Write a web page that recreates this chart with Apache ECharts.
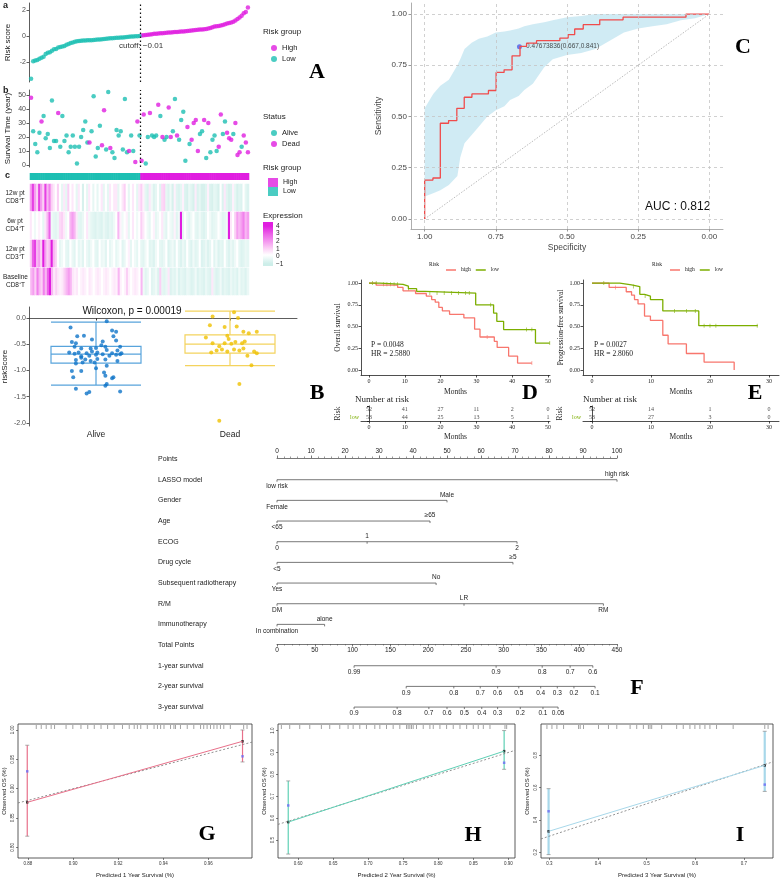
<!DOCTYPE html>
<html>
<head>
<meta charset="utf-8">
<title>Risk model figure</title>
<script src="https://cdn.jsdelivr.net/npm/echarts@6.0.0/dist/echarts.min.js"></script>
<style>
  html, body { margin: 0; padding: 0; background: #fff; }
  #chart { width: 780px; height: 881px; }
</style>
</head>
<body>
<div id="chart"></div>
<script>
// ---------- panels a-c: risk score, survival status, heatmap ----------
const riskCutoff = -0.01;
const riskScore = [
  -3.3, -1.95, -1.9, -1.85, -1.75, -1.68, -1.6, -1.4, -1.3, -1.25, -1.15, -1.02, -1.0, -0.9, -0.86, -0.82, -0.78, -0.68,
  -0.62, -0.55, -0.5, -0.45, -0.4, -0.39, -0.37, -0.36, -0.35, -0.34, -0.33, -0.33, -0.32, -0.3, -0.28, -0.27, -0.26,
  -0.24, -0.22, -0.2, -0.18, -0.17, -0.16, -0.14, -0.13, -0.12, -0.11, -0.1, -0.08, -0.07, -0.05, -0.04, -0.03, -0.02, -0.01,
  0.03, 0.05, 0.07, 0.1, 0.12, 0.14, 0.16, 0.17, 0.18, 0.2, 0.21, 0.23, 0.25, 0.26, 0.27, 0.28, 0.3, 0.31, 0.32, 0.34,
  0.35, 0.37, 0.39, 0.41, 0.42, 0.44, 0.45, 0.47, 0.49, 0.5, 0.52, 0.54, 0.57, 0.62, 0.68, 0.72, 0.74, 0.76, 0.8, 0.85,
  0.9, 0.96, 1.0, 1.04, 1.1, 1.2, 1.3, 1.42, 1.55, 1.75, 1.85, 2.2
];
const survTime = [
  48, 24, 15, 9, 23, 31, 35, 19, 22, 12, 46, 17, 17, 37, 13, 35, 17, 21, 9, 13, 21, 13, 1, 13, 20, 25, 31, 16, 16, 24,
  49, 6, 12, 28, 14, 39, 11, 52, 12, 9, 5, 25, 21, 24, 11, 47, 9, 10, 21, 10, 2, 31, 21,
  3, 36, 1, 20, 37, 21, 20, 21, 43, 35, 20, 18, 20, 41, 20, 24, 47, 21, 18, 32, 38, 3, 27, 15, 18, 30, 32, 10, 22, 24,
  32, 5, 30, 9, 18, 21, 10, 13, 36, 22, 31, 23, 19, 18, 22, 30, 7, 9, 13, 21, 16, 9
];
const deadFlag = [
  1, 0, 0, 0, 0, 1, 0, 0, 0, 0, 0, 0, 0, 1, 0, 0, 0, 0, 0, 0, 0, 0, 0, 0, 0, 0, 0, 0, 1, 0,
  0, 0, 0, 0, 1, 1, 0, 0, 1, 0, 0, 0, 0, 0, 0, 0, 0, 1, 0, 0, 1, 1, 0,
  1, 1, 0, 0, 1, 0, 0, 0, 1, 0, 1, 0, 0, 1, 1, 0, 0, 1, 0, 0, 0, 0, 1, 0, 1, 1, 1, 1, 0, 0,
  1, 0, 1, 0, 0, 0, 0, 1, 1, 0, 0, 1, 1, 1, 0, 1, 1, 1, 0, 1, 1, 1
];
const heatRows = ['12w pt\nCD8⁺T', '6w pt\nCD4⁺T', '12w pt\nCD3⁺T', 'Baseline\nCD8⁺T'];
const heatCD8w12 = [
  2, 3.5, 2, 1, 3.5, 2, 1, 3.5, 1.5, 2.5, 1, 0.5, 0, 1, 0, -0.5, 0.5, -0.5, 1, 0, 0.5,
  0, -0.5, 0.5, 0, -0.8, 0, -0.5, 0.5, 0, -0.5, 0, -0.5, 0, 0.5, -0.5, 0, -0.5, 0.5, 0, 0.5,
  0.5, -0.5, 0, 0.5, 1, 0, -0.5, 0, 0.5, 0, -0.5, 0.5,
  1, 0.3, -0.5, -0.7, 0.5, -0.3, -0.7, -0.5, 0, -0.6, 0.8, 1, -0.5, -0.7, -0.3, -0.8, 0.3, -0.6, -0.7, -0.5,
  0.3, -0.7, -0.8, -0.4, -0.6, -0.8, 0.4, -0.7, -0.5, -0.8, -0.8, -0.6, 0.3, -0.7, -0.8, -0.5, -0.6, -0.8, 0, -0.7,
  0.5, -0.6, -0.8, -0.7, 0.3, -0.5, -0.8, -0.6, -0.7, 0, -0.5, -0.7
];
const heatCD4w6 = [
  0.5, 0, -0.3, 0, 0.3, 0, -0.5, 0.5, 1.5, 3, -0.3, -0.5, -0.6, -0.4, 0.8, 1, 0.5, -0.3, 0, 1.5, 2,
  1.5, 0.5, -0.5, -0.6, -0.4, 0, 0.5, -0.3, -0.5, -0.6, -0.7, -0.5, -0.6, -0.7, -0.4, -0.6, -0.7, -0.5, -0.6, -0.3,
  0, 1.5, 0.3, -0.3, 0, 0.3, -0.5, 0, 0.5, 0, -0.3, 0,
  1, 0.5, 0, -0.3, -0.5, 0, 0.3, -0.5, -0.3, 0, 0.5, -0.4, -0.6, 0, -0.3, -0.5, 0.3, -0.6, -0.3, 4,
  -0.5, 0, -0.4, -0.6, -0.3, 0, -0.5, -0.6, -0.3, -0.6, -0.7, -0.5, 0, -0.3, -0.6, -0.5, -0.4, 0, -0.3, -0.6,
  -0.5, -0.3, 4, 0.5, 0, 1, 2, 1.5, 2, 2.5, 1.5, 2
];
const heatCD3w12 = [
  1, 3, 3.5, 1.5, 2, 1, 4, 2, 1, 1.5, 4, 1.5, 1, 0, -0.5, -0.3, 0, -0.5, -0.6, 0, -0.4,
  -0.6, 0, -0.5, -0.3, -0.6, 0, -0.4, -0.6, -0.3, 0, -0.5, -0.6, 0, -0.4, -0.3, -0.6, 0, -0.5, -0.3, 0,
  -0.5, -0.3, 0, -0.6, -0.4, 0, 0.3, -0.5, 0, -0.3, -0.5, 0,
  -0.5, -0.6, -0.3, 0, -0.6, -0.5, -0.7, -0.3, 0, -0.5, -0.6, -0.4, 0, -0.7, -0.5, -0.3, -0.6, 0, -0.5, -0.7,
  -0.4, -0.6, 0, -0.5, -0.7, -0.3, -0.6, -0.5, 0, -0.7, -0.6, -0.4, -0.7, -0.5, 0, -0.6, -0.3, -0.7, -0.5, -0.6,
  0, -0.5, -0.7, -0.4, -0.6, -0.3, 0, -0.5, -0.7, -0.6, -0.4, -0.5
];
const heatCD8base = [
  1.5, 2, 1, 2.5, 1.5, 1, 2.5, 1.5, 3, 4, 1.5, 0.5, 1, 0.5, 0.3, 0.5, 1, 1.5, 2, 1.5, 0.5,
  0.3, 0.5, 0, 0.3, 0.5, 0.3, 0, 0.5, 0.3, 0, 0.3, 0.5, 0.3, 0, 0.3, 0.5, 0.3, 0, 0.3, 0.5,
  0.3, 1.5, 0.3, 0, 0.3, 1, 0.3, 0, 0.3, 0.5, 0.3, 0,
  1.5, -0.3, -0.6, -0.4, 0, -0.6, -0.5, -0.3, -0.7, 1, -0.5, -0.6, -0.4, 0.5, -0.7, -0.5, -0.6, -0.3, -0.7, -0.5,
  -0.6, -0.7, -0.4, -0.5, -0.7, -0.6, -0.3, -0.7, -0.5, -0.6, -0.7, -0.4, -0.6, -0.7, 0.5, -0.5, -0.7, -0.6, -0.3, -0.7,
  -0.5, -0.6, -0.7, -0.4, -0.6, -0.5, -0.7, -0.3, -0.6, -0.5, -0.7, -0.4
];
const exprTicks = [4, 3, 2, 1, 0, -1];

// ---------- B: risk score by status ----------
const boxCats = ['Alive', 'Dead'];
const boxAlive = [-1.28, -0.86, -0.69, -0.54, -0.08];
const boxDead = [-0.91, -0.67, -0.5, -0.32, 0.13];
const jitterAlive = [
  [0.81, -0.18], [1.08, -0.06], [0.82, -0.46], [0.85, -0.48], [0.86, -0.35], [0.91, -0.34], [1.12, -0.24], [1.13, -0.35],
  [1.15, -0.26], [1.15, -0.43], [0.97, -0.41], [1.05, -0.45], [1.04, -0.52], [1.18, -0.55], [1.07, -0.55], [1.0, -0.57],
  [0.96, -0.58], [0.89, -0.58], [0.84, -0.55], [0.93, -0.67], [0.97, -0.64], [1.01, -0.66], [1.08, -0.61], [1.12, -0.67],
  [1.16, -0.62], [1.19, -0.67], [0.8, -0.66], [0.84, -0.68], [0.87, -0.66], [0.89, -0.73], [0.95, -0.72], [1.0, -0.7],
  [1.05, -0.69], [1.1, -0.72], [1.15, -0.7], [1.18, -0.69], [0.85, -0.8], [0.89, -0.76], [0.92, -0.79], [0.96, -0.82],
  [1.01, -0.78], [1.07, -0.79], [1.16, -0.82], [0.85, -0.87], [0.9, -0.85], [0.99, -0.85], [1.08, -0.91], [1.0, -0.96],
  [0.89, -1.01], [1.06, -1.04], [1.07, -1.1], [0.82, -1.01], [0.83, -1.13], [1.12, -1.15], [1.08, -1.26], [1.07, -1.29],
  [0.85, -1.35], [0.93, -1.44], [0.95, -1.41], [1.18, -1.4], [1.13, -1.13]
];
const jitterDead = [
  [1.87, 0.03], [2.03, 0.11], [2.06, 0.0], [1.85, -0.14], [1.96, -0.17], [2.05, -0.16], [1.82, -0.37], [1.98, -0.34],
  [1.99, -0.4], [2.1, -0.26], [2.14, -0.29], [2.2, -0.26], [1.87, -0.48], [1.92, -0.54], [1.96, -0.48], [2.01, -0.49],
  [2.04, -0.46], [2.09, -0.48], [2.11, -0.45], [1.86, -0.66], [1.9, -0.62], [1.94, -0.6], [1.98, -0.64], [2.03, -0.6],
  [2.07, -0.62], [2.18, -0.64], [2.2, -0.67], [2.13, -0.72], [2.1, -0.58], [2.16, -0.9], [2.07, -1.26], [1.92, -1.96]
];

// ---------- C: ROC ----------
const rocTicks = [0, 0.25, 0.5, 0.75, 1];
const rocSpec = [1, 1, 0.971, 0.945, 0.916, 0.887, 0.861, 0.834, 0.776, 0.749, 0.721, 0.693, 0.665, 0.642, 0.607, 0.525, 0.496, 0.473, 0.443, 0.385, 0.303, 0.082, 0];
const rocSens = [0, 0.19, 0.2, 0.467, 0.48, 0.54, 0.594, 0.61, 0.627, 0.715, 0.728, 0.796, 0.842, 0.858, 0.87, 0.883, 0.9, 0.927, 0.948, 0.972, 0.985, 1, 1];
const rocBandSpec = [1, 0.97, 0.945, 0.915, 0.885, 0.875, 0.86, 0.835, 0.81, 0.78, 0.75, 0.72, 0.7, 0.67, 0.65, 0.62, 0.6, 0.58, 0.55, 0.5, 0.45, 0.4, 0.35, 0.3, 0.25, 0.2, 0.15, 0.1, 0.05, 0];
const rocBandLow = [0.11, 0.125, 0.14, 0.166, 0.21, 0.3, 0.37, 0.41, 0.45, 0.5, 0.53, 0.55, 0.58, 0.6, 0.63, 0.66, 0.7, 0.74, 0.78, 0.8, 0.81, 0.83, 0.87, 0.91, 0.93, 0.94, 0.95, 0.97, 0.98, 1];
const rocBandHigh = [0.54, 0.61, 0.65, 0.68, 0.75, 0.78, 0.83, 0.86, 0.88, 0.89, 0.91, 0.915, 0.92, 0.93, 0.94, 0.95, 0.955, 0.96, 0.97, 0.985, 0.99, 1, 1, 1, 1, 1, 1, 1, 1, 1];
const rocBest = [0.667, 0.841];
const rocBestLabel = '-0.47673836(0.667,0.841)';
const rocAuc = 0.812;

// ---------- D, E: Kaplan-Meier ----------
const kmYTicks = [0, 0.25, 0.5, 0.75, 1];
const osHigh = [[0, 1], [2, 0.975], [8, 0.95], [9.5, 0.91], [13, 0.88], [16, 0.85], [17.5, 0.81], [18.5, 0.78], [19.5, 0.72], [20.5, 0.68], [22.5, 0.64], [26.5, 0.6], [29.5, 0.47], [31, 0.38], [35, 0.33], [35.8, 0.26], [39, 0.16], [41.5, 0.08], [45.5, 0.08]];
const osLow = [[0, 1], [3, 0.985], [9.5, 0.965], [11, 0.935], [13.3, 0.905], [15.6, 0.885], [29.8, 0.75], [34.8, 0.655], [35.7, 0.56], [37.6, 0.465], [46.5, 0.31], [50.5, 0.31]];
const osHighCensor = [33, 45.5];
const osLowCensor = [1, 2, 4, 5, 6, 7, 8, 11, 17, 19, 21, 23, 25, 27, 28, 34, 44, 45.5, 50.5];
const pfsHigh = [[0, 1], [2.9, 0.95], [5.8, 0.9], [6.7, 0.86], [7.2, 0.81], [7.8, 0.76], [8.9, 0.62], [9.9, 0.57], [12, 0.4], [12.9, 0.3], [16, 0.19], [19, 0.09], [24.1, 0]];
const pfsLow = [[0, 1], [4.7, 0.98], [6.7, 0.96], [8.1, 0.87], [8.9, 0.85], [9.9, 0.81], [12, 0.68], [18.1, 0.51], [28.1, 0.51]];
const pfsHighCensor = [4];
const pfsLowCensor = [2, 7, 9, 14, 16, 17.5, 19, 20, 21, 28];
const osRiskTimes = [0, 10, 20, 30, 40, 50];
const osAtRiskHigh = [52, 41, 27, 11, 2, 0];
const osAtRiskLow = [53, 44, 25, 13, 5, 1];
const pfsRiskTimes = [0, 10, 20, 30];
const pfsAtRiskHigh = [52, 14, 1, 0];
const pfsAtRiskLow = [53, 27, 3, 0];

// ---------- F: nomogram ----------
const nomoVars = ['LASSO model', 'Gender', 'Age', 'ECOG', 'Drug cycle', 'Subsequent radiotherapy', 'R/M', 'Immunotherapy'];
const nomoLevels = [['low risk', 'high risk'], ['Female', 'Male'], ['<65', '≥65'], ['0', '1', '2'], ['<5', '≥5'], ['Yes', 'No'], ['DM', 'LR', 'RM'], ['In combination', 'alone']];
const nomoLevelPoints = [[0, 100], [0, 50], [0, 45], [0, 26.5, 70.6], [0, 69.4], [0, 46.8], [0, 55, 96], [0, 14]];
const survRowNames = ['1-year survival', '2-year survival', '3-year survival'];
const survProbLabels = [
  ['0.99', '0.9', '0.8', '0.7', '0.6'],
  ['0.9', '0.8', '0.7', '0.6', '0.5', '0.4', '0.3', '0.2', '0.1'],
  ['0.9', '0.8', '0.7', '0.6', '0.5', '0.4', '0.3', '0.2', '0.1', '0.05']
];
const survProbTotals = [
  [102, 290, 351, 388, 418],
  [171, 234, 269, 292, 320, 349, 371, 393, 421],
  [102, 159, 201, 225, 248, 271, 292, 322, 352, 372]
];

// ---------- G, H, I: calibration ----------
const cal1Pred = [0.8797, 0.9751], cal1Obs = [0.8767, 0.9807], cal1Km = [0.9295, 0.9551], cal1Lo = [0.819, 0.9455], cal1Hi = [0.974, 1.0];
const cal2Pred = [0.586, 0.894], cal2Obs = [0.582, 0.906], cal2Km = [0.658, 0.853], cal2Lo = [0.436, 0.823], cal2Hi = [0.77, 1.0];
const cal3Pred = [0.2986, 0.743], cal3Obs = [0.33, 0.738], cal3Km = [0.454, 0.619], cal3Lo = [0.186, 0.577], cal3Hi = [0.594, 0.949];
const cal1Rug = [0.8837, 0.8859, 0.8881, 0.8903, 0.8918, 0.8969, 0.8999, 0.9035, 0.9065, 0.9094, 0.9124, 0.9153, 0.9182, 0.9219, 0.9249, 0.9271, 0.9285, 0.93, 0.9329, 0.9359, 0.9374, 0.9388, 0.9403, 0.9432, 0.9447, 0.9454, 0.9476, 0.9506, 0.9535, 0.9565, 0.9579, 0.9594, 0.9609, 0.9624, 0.9638, 0.9653, 0.9668, 0.9697, 0.9756, 0.9771];
const cal2Rug = [0.5762, 0.5881, 0.6024, 0.6167, 0.6333, 0.6452, 0.6595, 0.6714, 0.6786, 0.6881, 0.6976, 0.7095, 0.7167, 0.7262, 0.7357, 0.7452, 0.7548, 0.7571, 0.7595, 0.7619, 0.7643, 0.769, 0.7786, 0.7881, 0.7929, 0.8024, 0.8119, 0.8214, 0.831, 0.8405, 0.85, 0.8571, 0.8643, 0.8738, 0.8952, 0.8976];
const cal3Rug = [0.2952, 0.3055, 0.3157, 0.3294, 0.3602, 0.3636, 0.3704, 0.4012, 0.4217, 0.4388, 0.4662, 0.4798, 0.4935, 0.5038, 0.5072, 0.5106, 0.5311, 0.5619, 0.5755, 0.5892, 0.5994, 0.6097, 0.62, 0.6303, 0.6439, 0.6781, 0.7431, 0.7499];

// ======================================================================
const chart = echarts.init(document.getElementById('chart'));
const SANS = '"Liberation Sans", Arial, sans-serif';
const SERIF = '"Liberation Serif", "Times New Roman", serif';
const TEAL = '#1dbfb3', MAG = '#e01ee0';
const RED = '#f8766d', GREEN = '#7cae00';

const grid = [], xAxis = [], yAxis = [], series = [], graphic = [], legend = [];

function addPanel(g, xa, ya) {
  grid.push(g);
  const gi = grid.length - 1;
  const xs = [].concat(xa).map(a => xAxis.push(Object.assign({ gridIndex: gi }, a)) - 1);
  const ys = [].concat(ya).map(a => yAxis.push(Object.assign({ gridIndex: gi }, a)) - 1);
  return { x: xs, y: ys };
}
function txt(x, y, str, style, extra) {
  const s = Object.assign({ text: str, fill: '#222', fontSize: 8, fontFamily: SANS }, style);
  if (s.align) s.textAlign = s.align;
  if (s.verticalAlign) s.textVerticalAlign = s.verticalAlign;
  graphic.push(Object.assign({ type: 'text', x: x, y: y, silent: true, style: s }, extra));
}
function ggAxis(ticks, fmt, extra) {
  return Object.assign({
    type: 'value',
    axisLine: { show: true, onZero: false, lineStyle: { color: '#333', width: 0.8 } },
    axisTick: { show: true, customValues: ticks, length: 2.5, lineStyle: { color: '#333', width: 0.8 } },
    axisLabel: { customValues: ticks, formatter: fmt, fontSize: 7, color: '#4d4d4d', fontFamily: SANS, margin: 3 },
    splitLine: { show: false },
    nameLocation: 'middle',
    nameTextStyle: { fontSize: 8, color: '#222', fontFamily: SANS }
  }, extra);
}
const idx = riskScore.map((_, i) => i);
const nLow = riskScore.filter(v => v <= riskCutoff).length;
const cutLine = { silent: true, symbol: 'none', label: { show: false }, lineStyle: { type: [1.5, 2.5], color: '#111', width: 1.2 }, data: [{ xAxis: nLow - 0.5 }] };

// ---- a: risk score ----
const pa = addPanel({ left: 29, top: 3, width: 221, height: 79 },
  { type: 'value', min: -1, max: riskScore.length, show: false },
  ggAxis([-2, 0, 2], v => v, { min: -3.55, max: 2.54, name: 'Risk score', nameGap: 17 }));
series.push({ name: 'High', type: 'scatter', xAxisIndex: pa.x[0], yAxisIndex: pa.y[0], symbolSize: 4.5, itemStyle: { color: MAG },
  data: idx.filter(i => riskScore[i] > riskCutoff).map(i => [i, riskScore[i]]), markLine: cutLine });
series.push({ name: 'Low', type: 'scatter', xAxisIndex: pa.x[0], yAxisIndex: pa.y[0], symbolSize: 4.5, itemStyle: { color: TEAL },
  data: idx.filter(i => riskScore[i] <= riskCutoff).map(i => [i, riskScore[i]]) });

// ---- b: survival time ----
const pbS = addPanel({ left: 29, top: 90, width: 221, height: 77 },
  { type: 'value', min: -1, max: riskScore.length, show: false },
  ggAxis([0, 10, 20, 30, 40, 50], v => v, { min: -1.5, max: 53.5, name: 'Survival Time (year)', nameGap: 17 }));
series.push({ name: 'Alive', type: 'scatter', xAxisIndex: pbS.x[0], yAxisIndex: pbS.y[0], symbolSize: 4.5, itemStyle: { color: TEAL },
  data: idx.filter(i => !deadFlag[i]).map(i => [i, survTime[i]]), markLine: cutLine });
series.push({ name: 'Dead', type: 'scatter', xAxisIndex: pbS.x[0], yAxisIndex: pbS.y[0], symbolSize: 4.5, itemStyle: { color: MAG },
  data: idx.filter(i => deadFlag[i]).map(i => [i, survTime[i]]) });

// ---- c: risk group bar + heatmap rows ----
const pcBar = addPanel({ left: 30, top: 173, width: 219, height: 7 },
  { type: 'category', data: idx, show: false },
  { type: 'value', min: 0, max: 1, show: false });
series.push({ type: 'custom', xAxisIndex: pcBar.x[0], yAxisIndex: pcBar.y[0], silent: true,
  data: idx.map(i => [i, riskScore[i] > riskCutoff ? 1 : 0]),
  renderItem: (params, api) => {
    const c = api.coord([api.value(0), 0]);
    const w = api.size([1, 0])[0];
    const cs = params.coordSys;
    return { type: 'rect', shape: { x: c[0] - w / 2 - 0.3, y: cs.y, width: w + 0.6, height: cs.height },
      style: { fill: api.value(1) ? MAG : TEAL } };
  } });

const heatSeries = [];
[heatCD8w12, heatCD4w6, heatCD3w12, heatCD8base].forEach((row, r) => {
  const p = addPanel({ left: 30, top: 184 + r * 28, width: 219, height: 27 },
    { type: 'category', data: idx, show: false },
    { type: 'category', data: [heatRows[r]], axisLine: { show: false }, axisTick: { show: false },
      axisLabel: { fontSize: 6.5, color: '#222', fontFamily: SANS, align: 'center', margin: 15, lineHeight: 8 } });
  series.push({ type: 'heatmap', xAxisIndex: p.x[0], yAxisIndex: p.y[0], silent: true, data: row.map((v, c) => [c, 0, v]) });
  heatSeries.push(series.length - 1);
});
const exprColors = ['#cdeee9', '#ffffff', '#fbd0f5', '#f59ef0', '#ec64e8', '#e01ee0'];

// ---- B: boxplot ----
const pb = addPanel({ left: 27, top: 307, width: 270, height: 119 },
  [{ type: 'category', data: boxCats, axisLine: { show: true, lineStyle: { color: '#333', width: 0.8 } },
     axisTick: { show: true, length: 2.5, alignWithLabel: true, lineStyle: { color: '#333' } },
     axisLabel: { fontSize: 8.5, color: '#222', fontFamily: SANS, margin: 4 } },
   { type: 'value', min: 0.5, max: 2.5, show: false }],
  ggAxis([0, -0.5, -1, -1.5, -2], v => v.toFixed(1), { min: -2.06, max: 0.21, name: 'riskScore', nameGap: 20 }));
series.push({ type: 'boxplot', xAxisIndex: pb.x[0], yAxisIndex: pb.y[0], boxWidth: [90, 90], silent: true,
  data: [
    { value: boxAlive, itemStyle: { color: '#fff', borderColor: '#58a4dc', borderWidth: 1.2 } },
    { value: boxDead, itemStyle: { color: '#fff', borderColor: '#f4d35e', borderWidth: 1.2 } }
  ] });
series.push({ type: 'scatter', xAxisIndex: pb.x[1], yAxisIndex: pb.y[0], symbolSize: 4, itemStyle: { color: '#0f74c8' }, data: jitterAlive });
series.push({ type: 'scatter', xAxisIndex: pb.x[1], yAxisIndex: pb.y[0], symbolSize: 4, itemStyle: { color: '#efc000' }, data: jitterDead });

// ---- C: ROC ----
const rocAxis = (extra) => Object.assign({
  type: 'value',
  axisLine: { show: true, onZero: false, lineStyle: { color: '#999', width: 0.8 } },
  axisTick: { show: true, customValues: rocTicks, length: 2.5, lineStyle: { color: '#999' } },
  axisLabel: { customValues: rocTicks, formatter: v => v.toFixed(2), fontSize: 8, color: '#444', fontFamily: SANS, margin: 4 },
  splitLine: { show: false },
  nameLocation: 'middle', nameTextStyle: { fontSize: 8.5, color: '#444', fontFamily: SANS }
}, extra);
const pr = addPanel({ left: 411, top: 3, width: 312, height: 226 },
  rocAxis({ inverse: true, min: -0.048, max: 1.048, name: 'Specificity', nameGap: 14 }),
  rocAxis({ min: -0.049, max: 1.054, name: 'Sensitivity', nameGap: 28 }));
// dashed reference grid + chance diagonal
series.push({ type: 'line', xAxisIndex: pr.x[0], yAxisIndex: pr.y[0], symbol: 'none', silent: true,
  lineStyle: { color: '#aaa', width: 0.8, type: [1.5, 1.5] }, data: [[1, 0], [0, 1]],
  markLine: { silent: true, symbol: 'none', label: { show: false }, lineStyle: { type: [3, 3], color: '#c4c4c4', width: 0.8 },
    data: rocTicks.map(v => ({ xAxis: v })).concat(rocTicks.map(v => ({ yAxis: v }))) } });
series.push({ type: 'custom', xAxisIndex: pr.x[0], yAxisIndex: pr.y[0], silent: true, data: [[0, 0]],
  renderItem: (params, api) => {
    const up = rocBandSpec.map((s, k) => api.coord([s, rocBandHigh[k]]));
    const lo = rocBandSpec.map((s, k) => api.coord([s, rocBandLow[k]])).reverse();
    return { type: 'polygon', shape: { points: up.concat(lo) }, style: { fill: '#c8e7f2', opacity: 0.85 } };
  } });
series.push({ type: 'line', xAxisIndex: pr.x[0], yAxisIndex: pr.y[0], symbol: 'none', step: 'end', silent: true,
  lineStyle: { color: '#f04b4b', width: 1.3 }, data: rocSpec.map((s, k) => [s, rocSens[k]]) });
series.push({ type: 'scatter', xAxisIndex: pr.x[0], yAxisIndex: pr.y[0], symbolSize: 5, itemStyle: { color: '#4d5ee8' }, silent: true,
  data: [rocBest], label: { show: true, position: 'right', distance: 2, formatter: rocBestLabel, fontSize: 6.5, color: '#222', fontFamily: SANS } });

// ---- D, E: Kaplan-Meier ----
function kmAxis(ticks, fmt, extra) {
  return Object.assign({
    type: 'value',
    axisLine: { show: true, onZero: false, lineStyle: { color: '#222', width: 0.8 } },
    axisTick: { show: true, customValues: ticks, length: 2.5, lineStyle: { color: '#222', width: 0.8 } },
    axisLabel: { customValues: ticks, fontSize: 6, fontFamily: SERIF, color: '#222', margin: 3, formatter: fmt },
    splitLine: { show: false }, nameLocation: 'middle',
    nameTextStyle: { fontSize: 7.5, fontFamily: SERIF, color: '#222' }
  }, extra);
}
function kmAt(curve, t) {
  let s = curve[0][1];
  curve.forEach(p => { if (p[0] <= t) s = p[1]; });
  return s;
}
function kmPanel(g, xr, xt, yName, yGap, high, low, highCens, lowCens) {
  const p = addPanel(g,
    kmAxis(xt, v => v, { min: xr[0], max: xr[1], name: 'Months', nameGap: 13 }),
    kmAxis(kmYTicks, v => v.toFixed(2), { min: -0.057, max: 1.035, name: yName, nameGap: yGap }));
  [[high, RED, 'high', highCens], [low, GREEN, 'low', lowCens]].forEach(([c, col, nm, cens]) => {
    series.push({ name: nm, type: 'line', xAxisIndex: p.x[0], yAxisIndex: p.y[0], step: 'end', symbol: 'none', silent: true,
      lineStyle: { color: col, width: 1.3 }, itemStyle: { color: col }, data: c });
    series.push({ type: 'scatter', xAxisIndex: p.x[0], yAxisIndex: p.y[0], symbol: 'rect', symbolSize: [0.7, 4], silent: true,
      itemStyle: { color: col }, data: cens.map(t => [t, kmAt(c, t)]) });
  });
}
function riskTable(g, xr, times, hi, lo) {
  const p = addPanel(g,
    kmAxis(times, v => v, { min: xr[0], max: xr[1], name: 'Months', nameGap: 12 }),
    { type: 'category', data: ['low', 'high'],
      axisLine: { show: true, lineStyle: { color: '#222', width: 0.8 } },
      axisTick: { show: true, length: 2, lineStyle: { color: '#222' } },
      axisLabel: { fontSize: 6, fontFamily: SERIF, margin: 2, color: v => v === 'high' ? RED : GREEN },
      name: 'Risk', nameLocation: 'middle', nameGap: 19, nameTextStyle: { fontSize: 7.5, fontFamily: SERIF, color: '#222' } });
  series.push({ type: 'scatter', xAxisIndex: p.x[0], yAxisIndex: p.y[0], symbolSize: 1, itemStyle: { color: 'transparent' }, silent: true,
    data: times.map((t, k) => [t, 1, hi[k]]).concat(times.map((t, k) => [t, 0, lo[k]])),
    label: { show: true, position: 'inside', formatter: q => q.value[2], fontSize: 6, fontFamily: SERIF, color: '#222' } });
}
kmPanel({ left: 361, top: 280, width: 189, height: 95 }, [-2.24, 50.56], osRiskTimes, 'Overall survival', 19, osHigh, osLow, osHighCensor, osLowCensor);
kmPanel({ left: 583, top: 280, width: 196, height: 95 }, [-1.53, 31.7], pfsRiskTimes, 'Progression-free survival', 18, pfsHigh, pfsLow, pfsHighCensor, pfsLowCensor);
riskTable({ left: 361, top: 406, width: 189, height: 15 }, [-2.24, 50.56], osRiskTimes, osAtRiskHigh, osAtRiskLow);
riskTable({ left: 583, top: 406, width: 196, height: 15 }, [-1.53, 31.7], pfsRiskTimes, pfsAtRiskHigh, pfsAtRiskLow);

// ---- F: nomogram ----
const nomoRowNames = ['Points'].concat(nomoVars, ['Total Points'], survRowNames);
const pn = addPanel({ left: 277, top: 448.7, width: 340, height: 268.7 },
  [{ type: 'value', min: 0, max: 100, show: false }, { type: 'value', min: 0, max: 450, show: false }],
  { type: 'category', data: nomoRowNames, inverse: true, axisLine: { show: false }, axisTick: { show: false },
    axisLabel: { align: 'left', margin: 119, fontSize: 7, color: '#222', fontFamily: SANS } });
function nomoScale(api, vals, labs, row, alternate) {
  const pts = vals.map(v => api.coord([v, row]));
  const y = pts[0][1];
  const ln = { stroke: '#555', lineWidth: 0.8 };
  const kids = [{ type: 'line', shape: { x1: pts[0][0], y1: y, x2: pts[pts.length - 1][0], y2: y }, style: ln }];
  pts.forEach((p, k) => {
    const up = alternate && k % 2 === 1;
    kids.push({ type: 'line', shape: { x1: p[0], y1: y, x2: p[0], y2: y + 2 }, style: ln });
    kids.push({ type: 'text', x: p[0], y: up ? y - 2 : y + 3,
      style: { text: labs[k], fontSize: 6.5, fontFamily: SANS, fill: '#222', align: 'center', verticalAlign: up ? 'bottom' : 'top' } });
  });
  return { type: 'group', children: kids };
}
series.push({ type: 'custom', xAxisIndex: pn.x[0], yAxisIndex: pn.y[0], silent: true,
  data: nomoLevelPoints.map((p, k) => [p[0], k + 1]),
  renderItem: (params, api) => nomoScale(api, nomoLevelPoints[params.dataIndex], nomoLevels[params.dataIndex], api.value(1), true) });
series.push({ type: 'custom', xAxisIndex: pn.x[1], yAxisIndex: pn.y[0], silent: true,
  data: survProbTotals.map((p, k) => [p[0], nomoVars.length + 2 + k]),
  renderItem: (params, api) => nomoScale(api, survProbTotals[params.dataIndex], survProbLabels[params.dataIndex], api.value(1), false) });
const nomoAxis = (extra) => Object.assign({
  type: 'value',
  axisLine: { show: true, onZero: false, lineStyle: { color: '#555', width: 0.8 } },
  axisTick: { show: true, length: 2.5, lineStyle: { color: '#555', width: 0.8 } },
  minorTick: { show: true, splitNumber: 5, length: 1.5, lineStyle: { color: '#555', width: 0.6 } },
  axisLabel: { fontSize: 6.5, color: '#222', fontFamily: SANS, margin: 3 },
  splitLine: { show: false }
}, extra);
addPanel({ left: 277, top: 458, width: 340, height: 1 }, nomoAxis({ position: 'top', min: 0, max: 100, interval: 10 }), { type: 'value', show: false });
addPanel({ left: 277, top: 643, width: 340, height: 1 }, nomoAxis({ position: 'bottom', min: 0, max: 450, interval: 50 }), { type: 'value', show: false });

// ---- G, H, I: calibration ----
function calibPanel(g, xr, yr, xt, yt, xf, yf, pred, obs, km, lo, hi, rug, col, barW, xname) {
  const axBase = (ticks, fmt, extra) => Object.assign({
    type: 'value', axisLine: { show: false },
    axisTick: { show: true, customValues: ticks, length: 2, lineStyle: { color: '#333', width: 0.6 } },
    axisLabel: { customValues: ticks, formatter: fmt, fontSize: 4.5, color: '#333', fontFamily: SANS, margin: 3 },
    splitLine: { show: false }, nameLocation: 'middle', nameTextStyle: { fontSize: 6, color: '#222', fontFamily: SANS }
  }, extra);
  const p = addPanel(Object.assign({ show: true, borderColor: '#333', borderWidth: 0.8 }, g),
    axBase(xt, xf, { min: xr[0], max: xr[1], name: xname, nameGap: 14 }),
    axBase(yt, yf, { min: yr[0], max: yr[1], name: 'Observed OS (%)', nameGap: 11,
      axisLabel: { customValues: yt, formatter: yf, fontSize: 4.5, color: '#333', rotate: 90, margin: 3 } }));
  const xi = p.x[0], yi = p.y[0];
  series.push({ type: 'line', xAxisIndex: xi, yAxisIndex: yi, symbol: 'none', silent: true,
    lineStyle: { color: '#777', width: 0.8, type: [2, 2] }, data: [[xr[0], xr[0]], [xr[1], xr[1]]] });
  series.push({ type: 'line', xAxisIndex: xi, yAxisIndex: yi, symbol: 'none', silent: true,
    lineStyle: { color: col, width: 1 }, data: pred.map((v, k) => [v, obs[k]]) });
  series.push({ type: 'custom', xAxisIndex: xi, yAxisIndex: yi, silent: true,
    data: pred.map((v, k) => [v, lo[k], hi[k]]),
    renderItem: (params, api) => {
      const a = api.coord([api.value(0), api.value(1)]), b = api.coord([api.value(0), api.value(2)]);
      return { type: 'group', children: [
        { type: 'line', shape: { x1: a[0], y1: a[1], x2: b[0], y2: b[1] }, style: { stroke: col, lineWidth: barW } },
        { type: 'line', shape: { x1: a[0] - 2, y1: a[1], x2: a[0] + 2, y2: a[1] }, style: { stroke: '#888', lineWidth: 0.7 } },
        { type: 'line', shape: { x1: b[0] - 2, y1: b[1], x2: b[0] + 2, y2: b[1] }, style: { stroke: '#888', lineWidth: 0.7 } }
      ] };
    } });
  series.push({ type: 'scatter', xAxisIndex: xi, yAxisIndex: yi, symbol: 'rect', symbolSize: 2.5, silent: true, itemStyle: { color: '#6b6bf5' }, data: pred.map((v, k) => [v, km[k]]) });
  series.push({ type: 'scatter', xAxisIndex: xi, yAxisIndex: yi, symbol: 'rect', symbolSize: 2.5, silent: true, itemStyle: { color: '#111' }, data: pred.map((v, k) => [v, obs[k]]) });
  series.push({ type: 'custom', xAxisIndex: xi, yAxisIndex: yi, silent: true,
    data: rug.map(v => [v, yr[0]]),
    renderItem: (params, api) => {
      const q = api.coord([api.value(0), api.value(1)]);
      const top = params.coordSys.y;
      return { type: 'line', shape: { x1: q[0], y1: top + 1, x2: q[0], y2: top + 5 }, style: { stroke: '#444', lineWidth: 0.5 } };
    } });
}
const f2 = v => v.toFixed(2), f1 = v => v.toFixed(1);
calibPanel({ left: 17, top: 724, width: 235, height: 134 }, [0.8756, 0.9793], [0.7818, 1.0102],
  [0.88, 0.9, 0.92, 0.94, 0.96], [0.8, 0.85, 0.9, 0.95, 1.0], f2, f2,
  cal1Pred, cal1Obs, cal1Km, cal1Lo, cal1Hi, cal1Rug, '#e8708a', 1.2, 'Predicted 1 Year Survival (%)');
calibPanel({ left: 278, top: 724, width: 237, height: 134 }, [0.5714, 0.9095], [0.418, 1.03],
  [0.6, 0.65, 0.7, 0.75, 0.8, 0.85, 0.9], [0.5, 0.6, 0.7, 0.8, 0.9, 1.0], f2, f1,
  cal2Pred, cal2Obs, cal2Km, cal2Lo, cal2Hi, cal2Rug, '#5fd0b5', 1.2, 'Predicted 2 Year Survival (%)');
calibPanel({ left: 541, top: 724, width: 232, height: 134 }, [0.283, 0.76], [0.165, 0.994],
  [0.3, 0.4, 0.5, 0.6, 0.7], [0.2, 0.4, 0.6, 0.8], f1, f1,
  cal3Pred, cal3Obs, cal3Km, cal3Lo, cal3Hi, cal3Rug, '#a8d8ea', 2.2, 'Predicted 3 Year Survival (%)');

// ---- legends ----
legend.push({ data: ['High', 'Low'], left: 266, top: 39, orient: 'vertical', icon: 'circle', itemWidth: 6, itemHeight: 6, itemGap: 3, selectedMode: false, textStyle: { fontSize: 7.5, color: '#222', fontFamily: SANS } });
legend.push({ data: ['Alive', 'Dead'], left: 266, top: 124, orient: 'vertical', icon: 'circle', itemWidth: 6, itemHeight: 6, itemGap: 3, selectedMode: false, textStyle: { fontSize: 7.5, color: '#222', fontFamily: SANS } });
legend.push({ data: ['High', 'Low'], left: 263, top: 173, orient: 'vertical', icon: 'rect', itemWidth: 10, itemHeight: 9, itemGap: 0, selectedMode: false, textStyle: { fontSize: 7, color: '#222', fontFamily: SANS } });
legend.push({ data: ['high', 'low'], left: 441, top: 262, icon: 'rect', itemWidth: 10, itemHeight: 1.5, itemGap: 5, selectedMode: false, textStyle: { fontSize: 5.5, color: '#222', fontFamily: SERIF } });
legend.push({ data: ['high', 'low'], left: 665, top: 262, icon: 'rect', itemWidth: 10, itemHeight: 1.5, itemGap: 5, selectedMode: false, textStyle: { fontSize: 5.5, color: '#222', fontFamily: SERIF } });

// ---- texts ----
txt(3, 1, 'a', { fontSize: 9, fontWeight: 'bold' });
txt(3, 86, 'b', { fontSize: 9, fontWeight: 'bold' });
txt(5, 171, 'c', { fontSize: 9, fontWeight: 'bold' });
txt(263, 28, 'Risk group', { fontSize: 8 });
txt(263, 113, 'Status', { fontSize: 8 });
txt(263, 164, 'Risk group', { fontSize: 8 });
txt(263, 212, 'Expression', { fontSize: 8 });
txt(119, 46, 'cutoff: −0.01', { fontSize: 8, fill: '#333', verticalAlign: 'middle' });
graphic.push({ type: 'rect', silent: true, shape: { x: 263, y: 222, width: 10, height: 44 },
  style: { fill: new echarts.graphic.LinearGradient(0, 0, 0, 1, [
    { offset: 0, color: exprColors[5] }, { offset: 0.09, color: exprColors[5] }, { offset: 0.28, color: exprColors[4] },
    { offset: 0.46, color: exprColors[3] }, { offset: 0.6, color: exprColors[2] }, { offset: 0.75, color: exprColors[1] },
    { offset: 0.95, color: exprColors[0] }, { offset: 1, color: exprColors[0] }]) } });
exprTicks.forEach((v, k) => txt(276, 226 + k * 7.6, v < 0 ? '−' + Math.abs(v) : String(v), { fontSize: 6.5, verticalAlign: 'middle' }));
txt(132, 311, 'Wilcoxon, p = 0.00019', { fontSize: 10, align: 'center', verticalAlign: 'middle', fill: '#111' });
txt(645, 207, 'AUC : ' + rocAuc, { fontSize: 12, verticalAlign: 'middle', fill: '#111' });
txt(429, 265, 'Risk', { fontSize: 5.5, fontFamily: SERIF, verticalAlign: 'middle' });
txt(652, 265, 'Risk', { fontSize: 5.5, fontFamily: SERIF, verticalAlign: 'middle' });
txt(371, 345, 'P = 0.0048', { fontSize: 7.5, fontFamily: SERIF, verticalAlign: 'middle' });
txt(371, 354, 'HR = 2.5880', { fontSize: 7.5, fontFamily: SERIF, verticalAlign: 'middle' });
txt(594, 345, 'P = 0.0027', { fontSize: 7.5, fontFamily: SERIF, verticalAlign: 'middle' });
txt(594, 354, 'HR = 2.8060', { fontSize: 7.5, fontFamily: SERIF, verticalAlign: 'middle' });
txt(355, 400, 'Number at risk', { fontSize: 9, fontFamily: SERIF, verticalAlign: 'middle' });
txt(583, 400, 'Number at risk', { fontSize: 9, fontFamily: SERIF, verticalAlign: 'middle' });
const bigLetter = { fontSize: 22, fontWeight: 'bold', fontFamily: SERIF, fill: '#000', align: 'center', verticalAlign: 'middle' };
txt(317, 72, 'A', bigLetter);
txt(317, 393, 'B', bigLetter);
txt(743, 47, 'C', bigLetter);
txt(530, 393, 'D', bigLetter);
txt(755, 393, 'E', bigLetter);
txt(637, 688, 'F', bigLetter);
txt(207, 834, 'G', bigLetter);
txt(473, 835, 'H', bigLetter);
txt(740, 835, 'I', bigLetter);

chart.setOption({
  animation: false,
  backgroundColor: '#fff',
  textStyle: { fontFamily: SANS },
  grid: grid, xAxis: xAxis, yAxis: yAxis, series: series, legend: legend, graphic: graphic,
  visualMap: [{ type: 'continuous', show: false, seriesIndex: heatSeries, dimension: 2, min: -1, max: 4, inRange: { color: exprColors } }]
});
</script>
</body>
</html>
